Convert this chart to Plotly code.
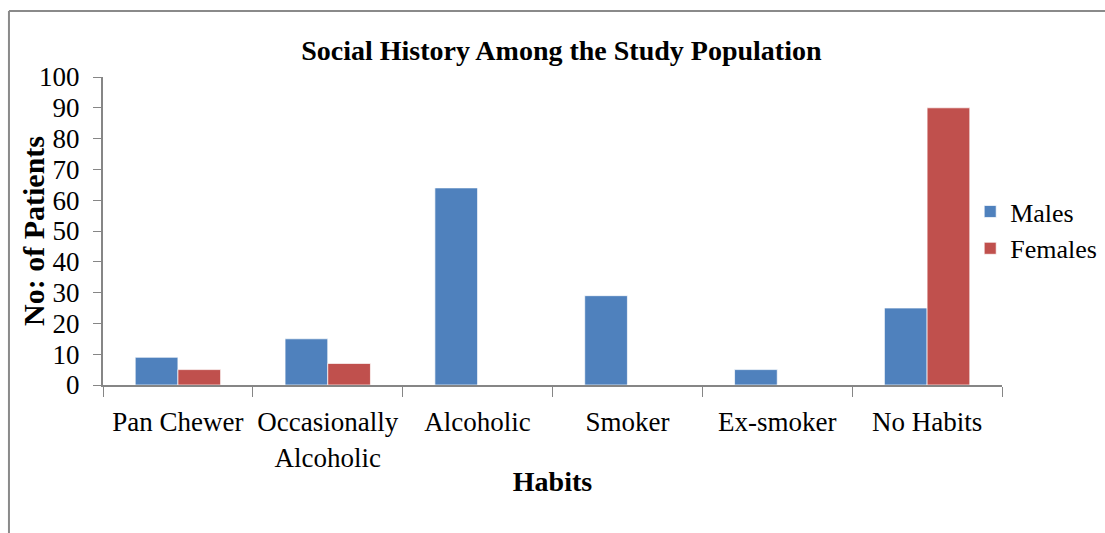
import plotly.graph_objects as go

categories = ["Pan Chewer", "Occasionally<br>Alcoholic", "Alcoholic", "Smoker", "Ex-smoker", "No Habits"]
males = [9, 15, 64, 29, 5, 25]
females = [5, 7, 0, 0, 0, 90]

FONT = "Liberation Serif, Times New Roman, serif"
AX = "#868686"

fig = go.Figure()
fig.add_trace(go.Bar(x=categories, y=males, name="Males",
                     marker=dict(color="#4F81BD", line=dict(color="rgba(255,255,255,0.7)", width=1))))
fig.add_trace(go.Bar(x=categories, y=females, name="Females",
                     marker=dict(color="#C0504D", line=dict(color="rgba(255,255,255,0.7)", width=1))))

fig.update_layout(
    width=1105, height=533,
    margin=dict(l=103, r=103, t=77, b=148, autoexpand=False),
    paper_bgcolor="white", plot_bgcolor="white",
    font=dict(family=FONT, color="black", size=27),
    barmode="group", bargap=0.43, bargroupgap=0,
    title=dict(text="<b>Social History Among the Study Population</b>",
               x=0.508, xanchor="center", y=0.906, yanchor="middle",
               font=dict(size=28, family=FONT, color="black")),
    legend=dict(xref="container", x=0.878, xanchor="left", y=0.503, yref="paper", yanchor="middle",
                font=dict(size=26, family=FONT), itemwidth=30,
                tracegroupgap=0, bgcolor="rgba(0,0,0,0)"),
    xaxis=dict(type="category", tickson="boundaries", ticks="outside", ticklen=10,
               tickcolor=AX, linecolor=AX, linewidth=2, showline=True, tickangle=0,
               automargin=False, ticklabelstandoff=12,
               tickfont=dict(size=27, family=FONT),
               title=dict(text="<b>Habits</b>", font=dict(size=28, family=FONT), standoff=0)),
    yaxis=dict(range=[0, 100], dtick=10, tick0=0, ticks="outside", ticklen=8,
               tickcolor=AX, linecolor=AX, linewidth=2, showline=True, showgrid=False,
               zeroline=False, tickfont=dict(size=27, family=FONT), automargin=False,
               ticklabelstandoff=8),
    annotations=[
        dict(text="<b>No: of Patients</b>", xref="paper", yref="paper", x=-0.0779, y=0.5,
             xanchor="center", yanchor="middle", textangle=-90, showarrow=False,
             font=dict(size=30, family=FONT, color="black")),
    ],
    shapes=[
        dict(type="line", xref="paper", yref="paper", x0=-0.1046, x1=1.2, y0=1.214, y1=1.214,
             line=dict(color="#8a8a8a", width=2)),
        dict(type="line", xref="paper", yref="paper", x0=-0.1046, x1=-0.1046, y0=1.214, y1=-0.6,
             line=dict(color="#8a8a8a", width=2)),
    ],
)

fig.write_html("out.html")
